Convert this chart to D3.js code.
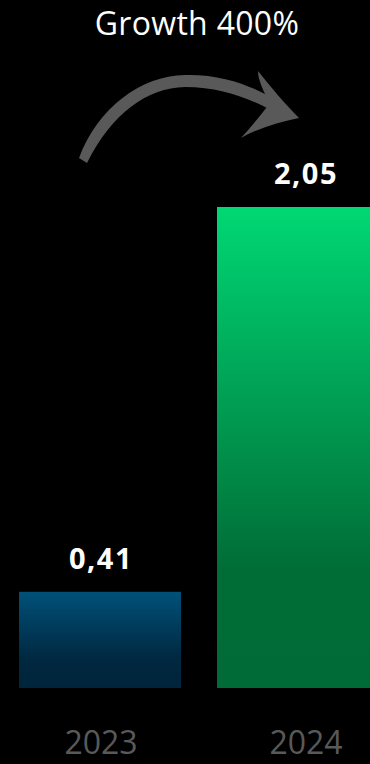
<!DOCTYPE html>
<html><head><meta charset="utf-8">
<script src="https://cdn.jsdelivr.net/npm/d3@7"></script>
<style>html,body{margin:0;padding:0;background:#000;}svg{display:block;}</style>
</head><body>
<script>
const categories = ["2023", "2024"];
const values = [0.41, 2.05];
const valueLabels = ["0,41", "2,05"];
const title = "Growth 400%";

const W = 370, H = 764;
const svg = d3.select("body").append("svg").attr("width", W).attr("height", H).style("background", "#000");

const defs = svg.append("defs");
const g1 = defs.append("linearGradient").attr("id", "gBlue").attr("x1", 0).attr("y1", 0).attr("x2", 0).attr("y2", 1);
g1.append("stop").attr("offset", "0%").attr("stop-color", "#005179");
g1.append("stop").attr("offset", "70%").attr("stop-color", "#002840");
g1.append("stop").attr("offset", "100%").attr("stop-color", "#00253b");
const g2 = defs.append("linearGradient").attr("id", "gGreen").attr("x1", 0).attr("y1", 0).attr("x2", 0).attr("y2", 1);
g2.append("stop").attr("offset", "0%").attr("stop-color", "#00d874");
g2.append("stop").attr("offset", "75%").attr("stop-color", "#006d37");
g2.append("stop").attr("offset", "100%").attr("stop-color", "#006b36");
const fills = ["url(#gBlue)", "url(#gGreen)"];

const x = d3.scaleBand().domain(categories).range([19, 379]).paddingInner(0.1818).paddingOuter(0);
const y = d3.scaleLinear().domain([0, 2.05]).range([688, 207]);
const labelShift = [1, 8];

svg.selectAll("rect.bar").data(values).join("rect").attr("class", "bar")
  .attr("x", (d, i) => x(categories[i]))
  .attr("width", x.bandwidth())
  .attr("y", d => y(d))
  .attr("height", d => y(0) - y(d))
  .attr("fill", (d, i) => fills[i]);

svg.selectAll("text.val").data(values).join("text").attr("class", "val")
  .attr("x", (d, i) => x(categories[i]) + x.bandwidth() / 2 + labelShift[i])
  .attr("y", d => y(d) - 23)
  .attr("text-anchor", "middle")
  .attr("font-family", "Open Sans")
  .attr("font-weight", "bold")
  .attr("font-size", 29)
  .attr("letter-spacing", 1.5)
  .attr("fill", "#fff")
  .text((d, i) => valueLabels[i]);

svg.selectAll("text.cat").data(categories).join("text").attr("class", "cat")
  .attr("x", (d, i) => x(d) + x.bandwidth() / 2 + labelShift[i])
  .attr("y", 754)
  .attr("text-anchor", "middle")
  .attr("font-family", "Open Sans")
  .attr("font-size", 32)
  .attr("fill", "#595959")
  .text(d => d);

svg.append("text").attr("x", 197).attr("y", 35).attr("text-anchor", "middle")
  .attr("font-family", "Open Sans").attr("font-size", 32).attr("letter-spacing", 0.3).attr("fill", "#fff").text(title);

// curved arrow
const arrow = svg.append("g").attr("fill", "#595959");
arrow.append("path").attr("d",
  "M79,158 C98,108 140,76 185,75 C222,74 252,86 274,99 L269,109 C246,97 218,87 185,87 C147,88 112,113 87,163 Z");
arrow.append("path").attr("d",
  "M258,71 C270,86 285,104 299,118 C280,122 258,128 241,138 C251,127 261,115 269,104 C265,92 258,82 258,71 Z");
</script>
</body></html>
